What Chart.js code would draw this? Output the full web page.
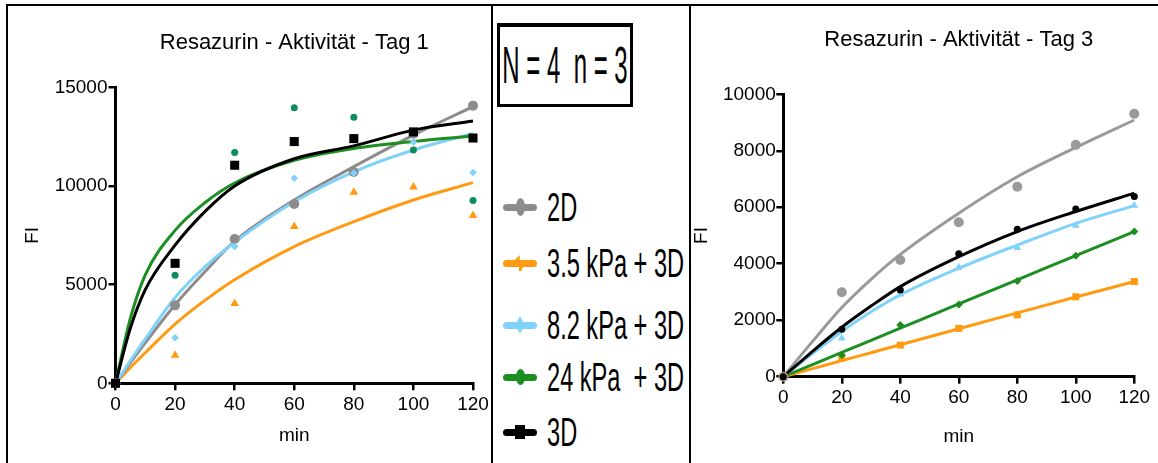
<!DOCTYPE html>
<html>
<head>
<meta charset="utf-8">
<script src="https://cdn.jsdelivr.net/npm/chart.js@4.4.0/dist/chart.umd.min.js"></script>
<style>
  html, body { margin: 0; padding: 0; background: #fff; }
  body { width: 1158px; height: 463px; position: relative; overflow: hidden; font-family: "Liberation Sans", Arial, sans-serif; }
  canvas { position: absolute; top: 0; }
  .rule { position: absolute; background: #000; z-index: 5; }
  .nbox { position: absolute; left: 497px; top: 23px; width: 136px; height: 84px; box-sizing: border-box; border: 3px solid #000; border-top-width: 4px; }
  .nbox span { position: absolute; left: 50%; top: 13px; font-size: 51px; line-height: 51px; white-space: pre; transform: translateX(-50%) scaleX(0.47); }
  .lg-row { position: absolute; left: 500px; width: 190px; height: 40px; }
  .lg-bar { position: absolute; left: 3px; top: 16.5px; width: 34px; height: 7px; border-radius: 3.5px; }
  .lg-text { position: absolute; left: 47px; top: 0; font-size: 40px; line-height: 40px; white-space: pre; transform: scaleX(0.59); transform-origin: left center; }
</style>
</head>
<body>
<canvas id="day1" width="492" height="463" style="left:0"></canvas>
<canvas id="day3" width="468" height="463" style="left:690px"></canvas>

<div class="rule" style="left:6px;top:4px;width:1152px;height:2px"></div>
<div class="rule" style="left:6px;top:4px;width:2px;height:459px"></div>
<div class="rule" style="left:491px;top:4px;width:2px;height:459px"></div>
<div class="rule" style="left:689px;top:4px;width:2px;height:459px"></div>

<div class="nbox"><span>N = 4  n = 3</span></div>
<div id="legend"></div>

<script>
// x values of the measurements (min)
const minutes = [0, 20, 40, 60, 80, 100, 120];
const seriesNames = ["2D", "3.5 kPa + 3D", "8.2 kPa + 3D", "24 kPa  + 3D", "3D"];
const seriesColors = ["#8c8c8c", "#ff9b12", "#80d2fa", "#1d8f22", "#000000"];

// Tag 1 - measured points
const day1_2D   = [0, 3950, 7310, 9090, 10710, 12650, 14070];
const day1_35   = [0, 1420, 4050, 7940, 9680, 9950, 8500];
const day1_82   = [0, 2310, 6930, 10390, 10650, 12230, 10680];
const day1_24   = [0, 5470, 11690, 13970, 13480, 11820, 9260];
const day1_3D   = [0, 6080, 11050, 12250, 12400, 12740, 12430];

// Tag 1 - fit curves
const day1FitMin = [0, 5, 10, 20, 30, 40, 60, 80, 100, 120];
const day1Fit2D  = [0, 1050, 2050, 3980, 5650, 7200, 9290, 10980, 12580, 14020];
const day1Fit35  = [0, 800, 1550, 3000, 4200, 5250, 6930, 8190, 9290, 10170];
const day1Fit82  = [0, 1150, 2250, 4350, 5900, 7150, 9200, 10720, 11820, 12660];
const day1Fit24  = [0, 3300, 5500, 7750, 9150, 10150, 11300, 11900, 12250, 12530];
const day1Fit3D  = [0, 2800, 4750, 7000, 8700, 10000, 11380, 12030, 12830, 13290];

// Tag 3 - measured points
const day3_2D   = [0, 2990, 4130, 5470, 6730, 8210, 9310];
const day3_35   = [0, 650, 1120, 1710, 2190, 2830, 3370];
const day3_82   = [0, 1360, 2920, 3870, 4570, 5350, 6060];
const day3_24   = [0, 770, 1830, 2560, 3390, 4280, 5140];
const day3_3D   = [0, 1680, 3070, 4350, 5220, 5940, 6380];

// Tag 3 - fit curves
const day3FitMin = [0, 10, 20, 30, 40, 60, 80, 100, 120];
const day3Fit2D  = [0, 1250, 2450, 3450, 4330, 5790, 7080, 8120, 9090];
const day3Fit35  = [0, 285, 570, 850, 1130, 1700, 2260, 2820, 3370];
const day3Fit82  = [0, 820, 1600, 2300, 2900, 3840, 4660, 5430, 6060];
const day3Fit24  = [0, 430, 860, 1290, 1720, 2580, 3430, 4290, 5140];
const day3Fit3D  = [0, 900, 1750, 2500, 3190, 4250, 5140, 5850, 6500];

Chart.defaults.font.family = '"Liberation Sans", Arial, sans-serif';
Chart.defaults.color = "#000";

function pts(xs, ys) {
  return xs.map(function (x, i) { return { x: x, y: ys[i] }; });
}

function points(ys, color, style, r) {
  return {
    data: pts(minutes, ys), showLine: false, pointStyle: style, pointRadius: r,
    backgroundColor: color, borderColor: color, borderWidth: 0, clip: false
  };
}

function curve(xs, ys, color) {
  return {
    data: pts(xs, ys), showLine: true, pointRadius: 0, borderColor: color, borderWidth: 3,
    cubicInterpolationMode: "monotone", fill: false, clip: false
  };
}

function options(o) {
  return {
    responsive: false, animation: false, events: [],
    layout: { padding: { left: 0, right: o.padRight, top: 0, bottom: 0 } },
    plugins: {
      legend: { display: false }, tooltip: { enabled: false },
      title: {
        display: true, text: o.title, fullSize: false, color: "#000",
        font: { size: 22, weight: "normal" }, padding: { top: o.titleTop, bottom: o.titleBottom }
      }
    },
    scales: {
      x: {
        type: "linear", min: 0, max: 120,
        ticks: { stepSize: 20, font: { size: 19 }, padding: 3, maxRotation: 0, color: "#000" },
        grid: { drawOnChartArea: false, color: "#000", lineWidth: 2.5, tickLength: 7 },
        border: { color: "#000", width: 3 },
        title: { display: true, text: "min", font: { size: 19 }, color: "#000", padding: { top: 0, bottom: o.minPad } },
        afterFit: function (s) { s.height = o.xHeight; }
      },
      y: {
        type: "linear", min: 0, max: o.yMax,
        ticks: { stepSize: o.yStep, font: { size: 19 }, padding: o.yTickPad, color: "#000", callback: function (v) { return String(v); } },
        grid: { drawOnChartArea: false, color: "#000", lineWidth: 2.5, tickLength: 7 },
        border: { color: "#000", width: 3 },
        title: { display: true, text: "FI", font: { size: 19 }, color: "#000", padding: { top: o.fiPad, bottom: 0 } },
        afterFit: function (s) { s.width = o.yWidth; }
      }
    }
  };
}

new Chart(document.getElementById("day1"), {
  type: "scatter",
  data: {
    datasets: [
      points(day1_3D, "#000000", "rect", 6.4),
      points(day1_24, "#0f8c5c", "circle", 3.5),
      points(day1_82, "#80d2fa", "rectRot", 3.8),
      points(day1_35, "#ff9b12", "triangle", 5),
      points(day1_2D, "#8c8c8c", "circle", 5),
      curve(day1FitMin, day1Fit3D, "#000000"),
      curve(day1FitMin, day1Fit24, "#1d8f22"),
      curve(day1FitMin, day1Fit82, "#80d2fa"),
      curve(day1FitMin, day1Fit2D, "#8c8c8c"),
      curve(day1FitMin, day1Fit35, "#ff9b12")
    ]
  },
  options: options({
    title: "Resazurin - Aktivität - Tag 1", padRight: 19, titleTop: 30, titleBottom: 30.9,
    yMax: 15000, yStep: 5000, yWidth: 115.5, yTickPad: 1, fiPad: 21.6,
    xHeight: 79.7, minPad: 15.6
  })
});

new Chart(document.getElementById("day3"), {
  type: "scatter",
  data: {
    datasets: [
      points(day3_3D, "#000000", "circle", 3.5),
      points(day3_24, "#1d8f22", "rectRot", 4),
      points(day3_82, "#80d2fa", "triangle", 4.5),
      points(day3_35, "#ff9b12", "rect", 5),
      points(day3_2D, "#9a9a9a", "circle", 5),
      curve(day3FitMin, day3Fit3D, "#000000"),
      curve(day3FitMin, day3Fit82, "#80d2fa"),
      curve(day3FitMin, day3Fit24, "#1d8f22"),
      curve(day3FitMin, day3Fit35, "#ff9b12"),
      curve(day3FitMin, day3Fit2D, "#9a9a9a")
    ]
  },
  options: options({
    title: "Resazurin - Aktivität - Tag 3", padRight: 23.7, titleTop: 27, titleBottom: 40.9,
    yMax: 10000, yStep: 2000, yWidth: 93.3, yTickPad: 0.5, fiPad: 0.6,
    xHeight: 86.3, minPad: 14.6
  })
});

// legend in the middle panel
const legendRowY = [207, 263, 325, 377, 432];
const legendMarks = [
  [9, 18, "border-radius:50%"],
  [12, 16, "clip-path:polygon(0 35%,100% 35%,60% 100%,40% 100%,50% 0)"],
  [9, 18, "clip-path:polygon(50% 0,100% 50%,50% 100%,0 50%)"],
  [9, 16, "border-radius:50%"],
  [10, 14, ""]
];
const lg = document.getElementById("legend");
seriesNames.forEach(function (name, i) {
  const row = document.createElement("div");
  row.className = "lg-row";
  row.style.top = (legendRowY[i] - 20) + "px";
  const bar = document.createElement("div");
  bar.className = "lg-bar";
  bar.style.background = seriesColors[i];
  const m = legendMarks[i];
  const mark = document.createElement("div");
  mark.style.cssText = "position:absolute;width:" + m[0] + "px;height:" + m[1] + "px;left:" +
    (20 - m[0] / 2) + "px;top:" + (20 - m[1] / 2) + "px;background:" + seriesColors[i] + ";" + m[2];
  const txt = document.createElement("div");
  txt.className = "lg-text";
  txt.textContent = name;
  row.appendChild(bar);
  row.appendChild(mark);
  row.appendChild(txt);
  lg.appendChild(row);
});
</script>
</body>
</html>
